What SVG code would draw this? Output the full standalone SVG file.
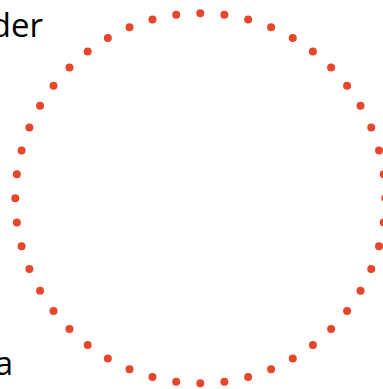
<svg xmlns="http://www.w3.org/2000/svg" width="383" height="389" viewBox="0 0 383 389">
<style>
.lbl{font-family:"Open Sans","Liberation Sans",sans-serif;font-size:33px;fill:#000}
.ring{fill:none;stroke:#e8462b;stroke-width:8;stroke-linecap:round;stroke-dasharray:0 1}
</style>
<rect width="383" height="389" fill="#fff"/>
<g id="ring-node">
<circle class="ring" cx="200.3" cy="198.3" r="185" pathLength="48"/>
</g>
<g id="label-top">
<text class="lbl" x="43" y="37" text-anchor="end">der</text>
</g>
<g id="label-bottom">
<text class="lbl" x="13" y="375" text-anchor="end">a</text>
</g>
</svg>
